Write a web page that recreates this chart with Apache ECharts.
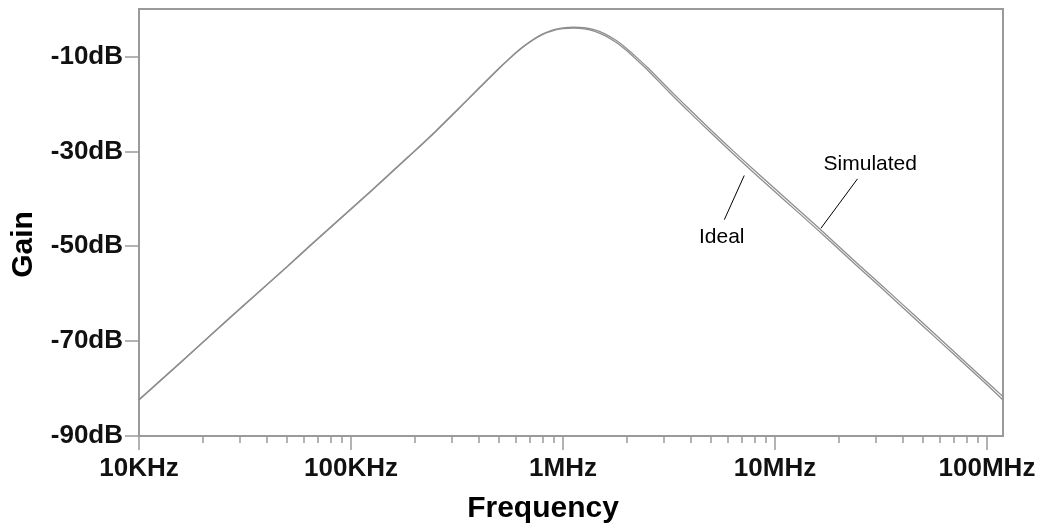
<!DOCTYPE html>
<html>
<head>
<meta charset="utf-8">
<script src="https://cdn.jsdelivr.net/npm/echarts@6/dist/echarts.min.js"></script>
<style>
  html, body { margin: 0; padding: 0; background: #fff; }
  #chart { width: 1041px; height: 523px; }
</style>
</head>
<body>
<div id="chart"></div>
<script>
// frequency points (Hz), 10 per decade, denser around the peak
const frequencies = [
  10000, 12590, 15850, 19950, 25120, 31620, 39810, 50120, 63100, 79430,
  100000, 125900, 158500, 199500, 251200, 316200, 398100, 501200, 562300, 631000,
  707900, 794300, 891300, 1000000, 1122000, 1259000, 1413000, 1585000, 1778000, 1995000,
  2239000, 2512000, 3162000, 3981000, 5012000, 6310000, 7943000, 10000000, 12590000, 15850000,
  19950000, 25120000, 31620000, 39810000, 50120000, 63100000, 79430000, 100000000, 119000000
]

// gain in dB
const simulatedGain = [
  -82.3, -78.3, -74.3, -70.3, -66.2, -62.2, -58.2, -54.2, -50.1, -46.1,
  -42.1, -38.1, -34.0, -29.9, -25.7, -21.3, -16.8, -12.4, -10.3, -8.35,
  -6.7, -5.35, -4.45, -4.0, -3.85, -3.95, -4.4, -5.3, -6.6, -8.3,
  -10.3, -12.4, -16.9, -21.3, -25.6, -29.8, -33.9, -37.9, -41.9, -45.9,
  -50.0, -54.1, -58.1, -62.2, -66.3, -70.4, -74.5, -78.6, -81.7
]

const idealGain = [
  -82.4, -78.4, -74.4, -70.3, -66.3, -62.3, -58.3, -54.3, -50.2, -46.2,
  -42.2, -38.2, -34.1, -30.0, -25.8, -21.4, -16.9, -12.5, -10.4, -8.45,
  -6.8, -5.45, -4.6, -4.15, -4.05, -4.2, -4.7, -5.65, -7.0, -8.75,
  -10.8, -12.9, -17.5, -21.9, -26.2, -30.4, -34.5, -38.5, -42.5, -46.5,
  -50.6, -54.7, -58.7, -62.8, -66.9, -71.0, -75.1, -79.2, -82.4
]

const majorTicks = [1e4, 1e5, 1e6, 1e7, 1e8]
const majorLabels = ['10KHz', '100KHz', '1MHz', '10MHz', '100MHz']
const minorTicks = [
  2e4, 3e4, 4e4, 5e4, 6e4, 7e4, 8e4, 9e4,
  2e5, 3e5, 4e5, 5e5, 6e5, 7e5, 8e5, 9e5,
  2e6, 3e6, 4e6, 5e6, 6e6, 7e6, 8e6, 9e6,
  2e7, 3e7, 4e7, 5e7, 6e7, 7e7, 8e7, 9e7
]
const gainTicks = [-90, -70, -50, -30, -10]

// annotation: leader line from / to and text centre, in data coordinates
const notes = [
  { text: 'Ideal', from: [5.77e6, -44.4], to: [7.16e6, -35.1], at: [5.61e6, -48.2] },
  { text: 'Simulated', from: [1.648e7, -46.2], to: [2.45e7, -35.8], at: [2.815e7, -32.7] }
]

const FONT = '"Liberation Sans", Arial, sans-serif'
const AXIS_GRAY = '#9a9a9a'
const CURVE_GRAY = '#8e8e8e'

const toPairs = (ys) => frequencies.map((f, i) => [f, ys[i]])

const freqLabel = (v) => {
  const i = majorTicks.findIndex((t) => Math.abs(Math.log10(t) - Math.log10(v)) < 1e-6)
  return i >= 0 ? majorLabels[i] : ''
}

const gridRect = { left: 139, top: 9, right: 38, bottom: 87, outerBoundsMode: 'none', containLabel: false }

const chart = echarts.init(document.getElementById('chart'), null, { renderer: 'canvas' })

chart.setOption({
  animation: false,
  backgroundColor: '#fff',
  grid: [
    Object.assign({ show: true, borderColor: AXIS_GRAY, borderWidth: 2 }, gridRect),
    Object.assign({ show: false }, gridRect)
  ],
  xAxis: [
    {
      type: 'log',
      logBase: 10,
      gridIndex: 0,
      position: 'bottom',
      min: 1e4,
      max: 1.19e8,
      name: 'Frequency',
      nameLocation: 'middle',
      nameGap: 58,
      nameTextStyle: {
        fontFamily: FONT,
        fontSize: 30,
        fontWeight: 'bold',
        color: '#000',
        padding: [0, 56, 0, 0]
      },
      axisLine: { show: true, onZero: false, lineStyle: { color: AXIS_GRAY, width: 2 } },
      axisTick: { show: true, customValues: majorTicks, length: 14, lineStyle: { color: AXIS_GRAY, width: 1.5 } },
      axisLabel: {
        customValues: majorTicks,
        formatter: freqLabel,
        margin: 20,
        fontFamily: FONT,
        fontSize: 26,
        fontWeight: 'bold',
        color: '#111'
      },
      splitLine: { show: false },
      minorTick: { show: false }
    },
    {
      type: 'log',
      logBase: 10,
      gridIndex: 1,
      position: 'bottom',
      min: 1e4,
      max: 1.19e8,
      axisLine: { show: false, onZero: false },
      axisTick: { show: true, customValues: minorTicks, length: 7, lineStyle: { color: AXIS_GRAY, width: 1.5 } },
      axisLabel: { show: false },
      splitLine: { show: false }
    }
  ],
  yAxis: [
    {
      type: 'value',
      gridIndex: 0,
      min: -90,
      max: 0,
      name: 'Gain',
      nameLocation: 'middle',
      nameGap: 100,
      nameTextStyle: {
        fontFamily: FONT,
        fontSize: 30,
        fontWeight: 'bold',
        color: '#000',
        padding: [0, 44, 0, 0]
      },
      axisLine: { show: true, onZero: false, lineStyle: { color: AXIS_GRAY, width: 2 } },
      axisTick: { show: true, customValues: gainTicks, length: 14, lineStyle: { color: AXIS_GRAY, width: 1.5 } },
      axisLabel: {
        customValues: gainTicks,
        formatter: (v) => v + 'dB',
        margin: 16,
        fontFamily: FONT,
        fontSize: 26,
        fontWeight: 'bold',
        color: '#111'
      },
      splitLine: { show: false }
    },
    {
      type: 'value',
      gridIndex: 1,
      min: -90,
      max: 0,
      show: false
    }
  ],
  series: [
    {
      name: 'Ideal',
      type: 'line',
      xAxisIndex: 0,
      yAxisIndex: 0,
      data: toPairs(idealGain),
      showSymbol: false,
      smooth: 0.3,
      silent: true,
      lineStyle: { color: CURVE_GRAY, width: 1.3 }
    },
    {
      name: 'Simulated',
      type: 'line',
      xAxisIndex: 0,
      yAxisIndex: 0,
      data: toPairs(simulatedGain),
      showSymbol: false,
      smooth: 0.3,
      silent: true,
      lineStyle: { color: CURVE_GRAY, width: 1.3 },
      markLine: {
        silent: true,
        symbol: 'none',
        label: { show: false },
        lineStyle: { color: '#000', width: 1, type: 'solid' },
        data: notes.map((n) => [{ coord: n.from }, { coord: n.to }])
      },
      markPoint: {
        silent: true,
        symbol: 'circle',
        symbolSize: 0,
        data: notes.map((n) => ({
          coord: n.at,
          label: {
            show: true,
            position: 'inside',
            formatter: n.text,
            fontFamily: FONT,
            fontSize: 21,
            color: '#000'
          }
        }))
      }
    }
  ]
})
</script>
</body>
</html>
